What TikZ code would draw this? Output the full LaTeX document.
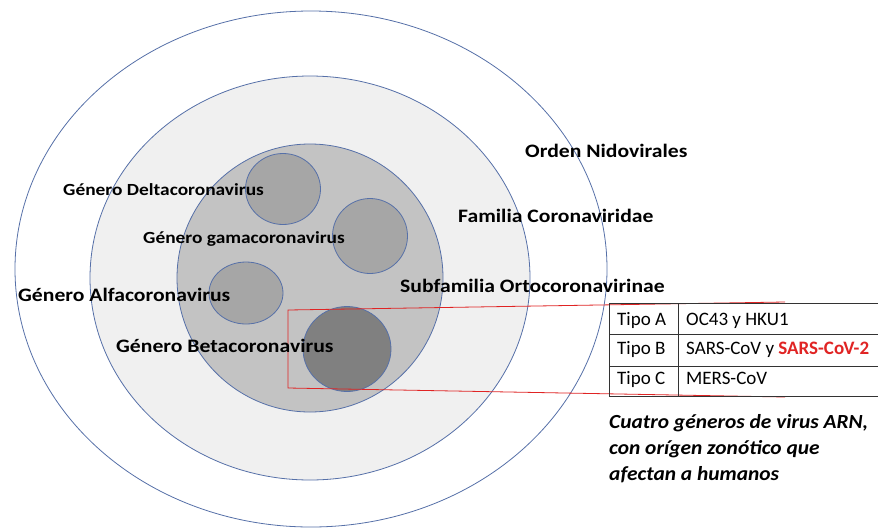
\documentclass[tikz,border=0pt]{standalone}
\usepackage{fontspec}
\setmainfont{Carlito}
\newfontfamily\taxonfont{Carlito}[FakeStretch=1.14]
\newfontfamily\notefont{Carlito}[FakeStretch=1.07]
\usepackage{tikz}
\usetikzlibrary{
	shapes.geometric,
	positioning,
}
\definecolor{rimblue}{HTML}{5670A8}
\definecolor{familiagray}{HTML}{F0F0F0}
\definecolor{subgray}{HTML}{C3C3C3}
\definecolor{generogray}{HTML}{A6A6A6}
\definecolor{betagray}{HTML}{808080}
\definecolor{callred}{HTML}{E02424}
\tikzset{
	rim/.style={
		ellipse,
		draw=rimblue,
		line width=0.8pt,
		inner sep=0pt,
	},
	taxon/.style={
		font=\taxonfont\fontsize{19}{22}\selectfont\bfseries,
		inner sep=0pt,
		anchor=base west,
	},
	genero/.style={
		font=\taxonfont\fontsize{17}{20}\selectfont\bfseries,
		inner sep=0pt,
		anchor=base west,
	},
	cell/.style={
		font=\fontsize{19}{22}\selectfont,
		inner sep=0pt,
		anchor=base west,
	},
	note/.style={
		font=\notefont\fontsize{20}{24}\selectfont\bfseries\itshape,
		inner sep=0pt,
		anchor=base west,
	},
}

\begin{document}
\begin{tikzpicture}[x=1pt,y=-1pt]
\useasboundingbox (0,0) rectangle (878,528);

% nested taxa
\node[rim, fill=white, minimum width=592pt, minimum height=516pt] (orden) at (311,269) {};
\node[rim, fill=familiagray, minimum width=440pt, minimum height=404pt] (familia) at (310,278) {};
\node[rim, fill=subgray, minimum width=266pt, minimum height=268pt] (sub) at (310,278) {};

\foreach \n/\x/\y/\w/\h in {
	delta/283/189/75/71,
	gama/370/236/75/75,
	alfa/246/293/74/62%
}{
	\node[rim, fill=generogray, minimum width=\w pt, minimum height=\h pt] (\n) at (\x,\y) {};
}
\node[rim, fill=betagray, minimum width=88pt, minimum height=85pt] (beta) at (347,349) {};

% callout
\coordinate (ctop) at (785,302);
\coordinate (cbot) at (785,397);
\draw[callred, line width=0.8pt]
(ctop) -- (288,310) -- (288,388) -- (cbot)
;

% table
\foreach \y in {303,334,366,396}{
	\draw[black!80, line width=0.7pt] (609,\y) -- (878,\y);
}
\foreach \x in {609,678}{
	\draw[black!80, line width=0.7pt] (\x,303) -- (\x,396);
}

\node[cell] (ta) at (617,325) {Tipo A};
\node[cell] (tb) at (617,354) {Tipo B};
\node[cell] (tc) at (617,384) {Tipo C};
\node[cell] (va) at (686,325) {OC43 y HKU1};
\node[cell] (vb) at (686,354) {SARS-CoV y \textcolor{callred}{\bfseries SARS-CoV-2}};
\node[cell] (vc) at (686,384) {MERS-CoV};

% labels
\node[taxon] (lorden) at (525,157) {Orden Nidovirales};
\node[taxon] (lfamilia) at (458,222) {Familia Coronaviridae};
\node[taxon] (lsub) at (400,292) {Subfamilia Ortocoronavirinae};

\node[genero] (ldelta) at (63,195) {Género Deltacoronavirus};
\node[genero] (lgama) at (143,243) {Género gamacoronavirus};
\node[taxon] (lalfa) at (18,301) {Género Alfacoronavirus};
\node[taxon] (lbeta) at (116,352) {Género Betacoronavirus};

\node[note] (n1) at (609,428) {Cuatro géneros de virus ARN,};
\node[note] (n2) at (609,454) {con orígen zonótico que};
\node[note] (n3) at (609,480) {afectan a humanos};

\end{tikzpicture}
\end{document}
